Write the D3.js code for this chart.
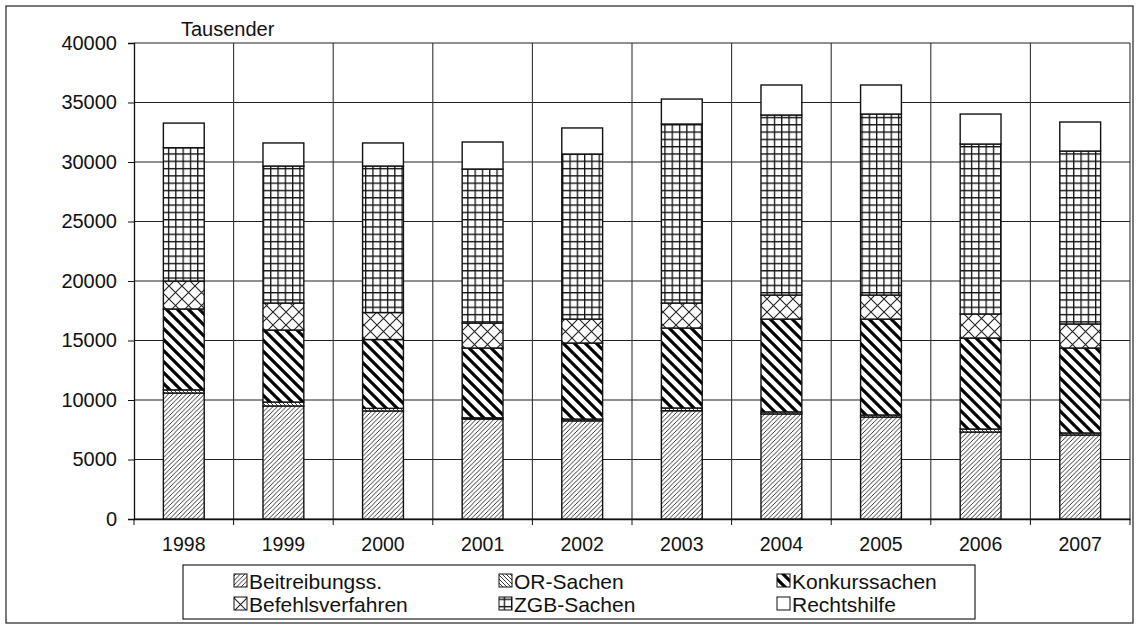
<!DOCTYPE html>
<html><head><meta charset="utf-8">
<script src="https://cdn.jsdelivr.net/npm/d3@7"></script>
<style>body{margin:0;background:#fff}svg{display:block}text{font-family:"Liberation Sans",Arial,sans-serif;fill:#111}</style>
</head><body><svg id="c" width="1138" height="627"></svg>
<script>
const years = ["1998","1999","2000","2001","2002","2003","2004","2005","2006","2007"];
const seriesNames = ["Beitreibungss.","OR-Sachen","Konkurssachen","Befehlsverfahren","ZGB-Sachen","Rechtshilfe"];
const beitreibung = [10590, 9500, 9080, 8400, 8250, 9100, 8830, 8570, 7310, 7060];
const orSachen    = [260, 330, 220, 100, 150, 230, 170, 170, 250, 170];
const konkurs     = [6800, 6050, 5780, 5870, 6390, 6720, 7800, 8060, 7650, 7140];
const befehl      = [2350, 2270, 2270, 2100, 2010, 2100, 2020, 2020, 2020, 2020];
const zgb         = [11200, 11510, 12310, 12940, 13870, 15040, 15130, 15210, 14280, 14530];
const rechtshilfe = [2070, 1940, 1940, 2270, 2190, 2100, 2520, 2440, 2520, 2440];
const yTicks = [0,5000,10000,15000,20000,25000,30000,35000,40000];

const seriesVals = [beitreibung, orSachen, konkurs, befehl, zgb, rechtshilfe];
const table = years.map((y,i)=>{const o={year:y}; seriesNames.forEach((s,j)=>o[s]=seriesVals[j][i]); return o;});
const stacked = d3.stack().keys(seriesNames)(table);

const svg = d3.select("#c");
const L=134,R=1130,T=43,B=519;
const x = d3.scaleBand().domain(years).range([L,R]).padding(0);
const y = d3.scaleLinear().domain([0,40000]).range([B,T]);
const FONT = "Liberation Sans, Arial, sans-serif";

// patterns
const defs = svg.append("defs");
function pat(id,w,h,draw){const p=defs.append("pattern").attr("id",id).attr("patternUnits","userSpaceOnUse").attr("width",w).attr("height",h);p.append("rect").attr("width",w).attr("height",h).attr("fill","#fff");draw(p);}
pat("pB",4.5,4.5,p=>{p.append("path").attr("d","M-1,1 L1,-1 M0,4.5 L4.5,0 M3.5,5.5 L5.5,3.5").attr("stroke","#222").attr("stroke-width",0.9);});
pat("pOR",4,4,p=>{p.append("path").attr("d","M-1,3 L1,5 M0,0 L4,4 M3,-1 L5,1").attr("stroke","#222").attr("stroke-width",0.9);});
pat("pK",11,11,p=>{p.append("path").attr("d","M-3,-3 L14,14 M-3,8 L3,14 M8,-3 L14,3").attr("stroke","#000").attr("stroke-width",3.2);});
pat("pBef",13,13,p=>{p.append("path").attr("d","M0,0 L13,13 M13,0 L0,13").attr("stroke","#222").attr("stroke-width",1.1);});
pat("pZ",7.3,7.3,p=>{p.append("path").attr("d","M0,0.6 H7.3 M0.6,0 V7.3").attr("stroke","#111").attr("stroke-width",1.4);});
const fills = {"Beitreibungss.":"url(#pB)","OR-Sachen":"url(#pOR)","Konkurssachen":"url(#pK)","Befehlsverfahren":"url(#pBef)","ZGB-Sachen":"url(#pZ)","Rechtshilfe":"#fff"};

// outer frame
svg.append("rect").attr("x",6).attr("y",6).attr("width",1127).attr("height",617).attr("fill","none").attr("stroke","#333").attr("stroke-width",1.3);

// grid
svg.append("g").selectAll("line").data(yTicks).join("line")
  .attr("x1",L).attr("x2",R).attr("y1",d=>y(d)).attr("y2",d=>y(d)).attr("stroke","#222").attr("stroke-width",1.2);
svg.append("g").selectAll("line").data(years.slice(1).concat(["end"])).join("line")
  .attr("x1",d=>d==="end"?R:x(d)).attr("x2",d=>d==="end"?R:x(d)).attr("y1",T).attr("y2",B).attr("stroke","#333").attr("stroke-width",1.1);

// axes
const yAxis = svg.append("g").attr("transform",`translate(${L},0)`).call(d3.axisLeft(y).tickValues(yTicks).tickSize(6).tickPadding(11).tickFormat(d3.format("d")));
yAxis.select(".domain").attr("stroke","#111").attr("stroke-width",1.3);
yAxis.selectAll("line").attr("stroke","#111");
yAxis.selectAll("text").attr("font-size",20).style("font-family",FONT).attr("fill","#111");
const xAxis = svg.append("g").attr("transform",`translate(0,${B})`).call(d3.axisBottom(x).tickSize(0).tickPadding(18));
xAxis.select(".domain").attr("stroke","#111").attr("stroke-width",1.3);
xAxis.selectAll("text").attr("font-size",19.5).style("font-family",FONT).attr("fill","#111");
svg.append("g").selectAll("line").data(years.concat(["end"])).join("line")
  .attr("x1",d=>d==="end"?R:x(d)).attr("x2",d=>d==="end"?R:x(d)).attr("y1",B).attr("y2",B+6).attr("stroke","#111");

// bars
const bw = x.bandwidth()*0.41;
stacked.forEach(s=>{
  svg.append("g").selectAll("rect").data(s).join("rect")
    .attr("x",d=>x(d.data.year)+(x.bandwidth()-bw)/2)
    .attr("width",bw)
    .attr("y",d=>y(d[1])).attr("height",d=>y(d[0])-y(d[1]))
    .attr("fill",fills[s.key]).attr("stroke","#111").attr("stroke-width",1.4);
});

svg.append("text").attr("x",181).attr("y",36).attr("font-size",20).style("font-family",FONT).text("Tausender");

// legend
const lg = svg.append("g");
lg.append("rect").attr("x",183).attr("y",565).attr("width",792).attr("height",54).attr("fill","#fff").attr("stroke","#222").attr("stroke-width",1.2);
const colX=[234,499,777], rowY=[581,604];
seriesNames.forEach((s,i)=>{
  const cx=colX[i%3], cy=rowY[Math.floor(i/3)];
  lg.append("rect").attr("x",cx).attr("y",cy-7).attr("width",13).attr("height",13).attr("fill",fills[s]).attr("stroke","#111").attr("stroke-width",1);
  lg.append("text").attr("x",cx+15).attr("y",cy+7.5).attr("font-size",21).style("font-family",FONT).text(s);
});
</script></body></html>
